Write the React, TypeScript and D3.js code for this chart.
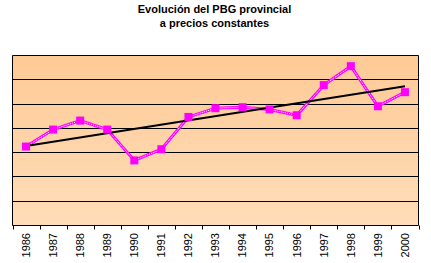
import React from "react";
import * as d3 from "d3";

const years = ["1986","1987","1988","1989","1990","1991","1992","1993","1994","1995","1996","1997","1998","1999","2000"];
const pbg = [3.25, 3.95, 4.32, 3.95, 2.68, 3.14, 4.47, 4.83, 4.87, 4.78, 4.54, 5.78, 6.56, 4.91, 5.49];
const gridValues = [1, 2, 3, 4, 5, 6, 7];
const titleLines = ["Evolución del PBG provincial", "a precios constantes"];

const W = 431, H = 263;
const left = 12.5, right = 418.5, top = 55.5, bottom = 225.5;

export default function App() {
  const x = d3.scaleBand<string>().domain(years).range([left, right]).paddingInner(0).paddingOuter(0);
  const y = d3.scaleLinear().domain([0, 7]).range([bottom, top]);
  const cx = (yr: string) => (x(yr) as number) + x.bandwidth() / 2;

  // least-squares trend line
  const idx = pbg.map((_, i) => i);
  const mx = d3.mean(idx) as number;
  const my = d3.mean(pbg) as number;
  const slope = d3.sum(idx.map((i) => (i - mx) * (pbg[i] - my))) / d3.sum(idx.map((i) => (i - mx) ** 2));
  const icpt = my - slope * mx;
  const trend = [0, pbg.length - 1].map((i) => ({ yr: years[i], v: icpt + slope * i }));

  const line = d3.line<number>().x((_, i) => cx(years[i])).y((d) => y(d));
  const trendLine = d3.line<{ yr: string; v: number }>().x((d) => cx(d.yr)).y((d) => y(d.v));

  const ticks = years.map((yr) => x(yr) as number).concat([right]);
  const fy = (v: number) => Math.floor(y(v)) + 0.5;

  return (
    <svg width={W} height={H} style={{ position: "absolute", left: 0, top: 0 }} fontFamily="'Liberation Sans', Arial, sans-serif">
      <defs>
        <linearGradient id="bg" x1="0" y1="0" x2="0" y2="1">
          <stop offset="0" stopColor="#FECA96" />
          <stop offset="1" stopColor="#FFDDB9" />
        </linearGradient>
      </defs>
      <rect x={0} y={0} width={W} height={H} fill="#fff" />
      {titleLines.map((t, i) => (
        <text key={i} x={214.5} y={13 + i * 14} textAnchor="middle" fontSize={11} fontWeight="bold" fill="#000">{t}</text>
      ))}
      <rect x={left} y={top} width={right - left} height={bottom - top} fill="url(#bg)" />
      {gridValues.map((g) => (
        <line key={g} x1={left} x2={right} y1={fy(g)} y2={fy(g)} stroke="#000" strokeWidth={1} />
      ))}
      <line x1={left} x2={left} y1={top} y2={bottom} stroke="#000" />
      <line x1={right} x2={right} y1={top} y2={bottom} stroke="#000" />
      <line x1={left} x2={right} y1={bottom} y2={bottom} stroke="#000" />
      {ticks.map((t, i) => (
        <line key={i} x1={Math.round(t) + 0.5} x2={Math.round(t) + 0.5} y1={bottom} y2={bottom + 4} stroke="#000" />
      ))}
      {years.map((yr) => (
        <text key={yr} transform={`translate(${cx(yr)},233) rotate(-90)`} textAnchor="end" dy="0.35em" fontSize={11} fill="#000">{yr}</text>
      ))}
      <path d={line(pbg) as string} fill="none" stroke="#FF00FF" strokeWidth={3} />
      <path d={line(pbg) as string} fill="none" stroke="#fff" strokeWidth={1} strokeDasharray="1,1" />
      <path d={trendLine(trend) as string} fill="none" stroke="#000" strokeWidth={2} />
      {pbg.map((v, i) => (
        <rect key={i} x={cx(years[i]) - 4} y={y(v) - 4} width={8} height={8} fill="#FF00FF" />
      ))}
    </svg>
  );
}
